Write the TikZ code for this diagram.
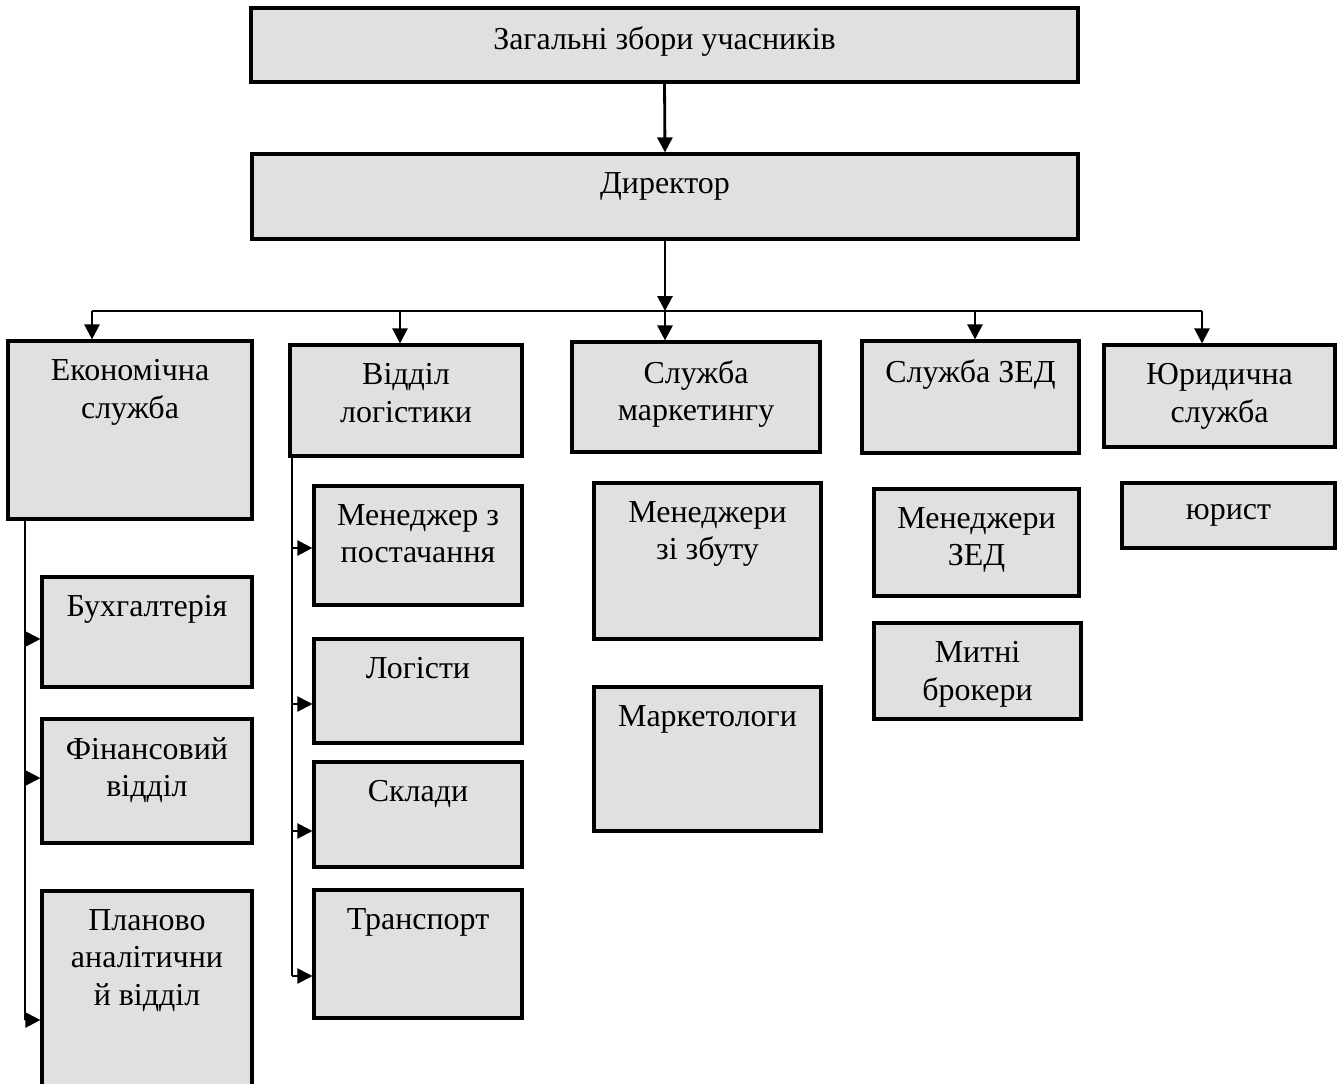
\documentclass[tikz,border=0pt]{standalone}
\usepackage{fontspec}
\setmainfont{Liberation Serif}
\usepackage{tikz}
\usetikzlibrary{arrows.meta, positioning, fit, calc}
\definecolor{colBox}{RGB}{224, 224, 224}
\newcommand{\orgfont}{\fontsize{18.2}{21.2}\selectfont}
\tikzset{
    box/.style={draw, line width=1.8pt, fill=colBox, inner sep=0pt},
    lbl/.style={anchor=north, align=center, inner sep=0pt, yshift=-0.4cm, font=\orgfont},
    tbox/.style={box, label={[lbl]north:#1}},
    arr/.style={-{Triangle[length=0.3cm, width=0.3cm]}}
}
\begin{document}
\begin{tikzpicture}[x=0.02cm, y=-0.02cm]
    \useasboundingbox (0,0) rectangle (1341,1083);
    % --- Kerivnytstvo ---
    \node[tbox={Загальні збори учасників}, fit={(251,8) (1078,82)}] (gen) {};
    \node[tbox={Директор}, fit={(252,154) (1078,239)}] (dir) {};
    \draw[arr, line width=1.6pt] (gen.south) -- (dir.north);

    % --- Sluzhby ---
    \node[tbox={Економічна\\служба}, fit={(8,341) (252,519)}] (econ) {};
    \node[tbox={Відділ\\логістики}, fit={(290,345) (522,456)}] (logi) {};
    \node[tbox={Служба\\маркетингу}, fit={(572,342) (820,452)}] (mark) {};
    \node[tbox={Служба ЗЕД}, fit={(862,341) (1079,453)}] (zed) {};
    \node[tbox={Юридична\\служба}, fit={(1104,345) (1335,447)}] (law) {};

    % Shyna vid dyrektora
    \coordinate (bL) at (92,311);
    \coordinate (bR) at (1202,311);
    \draw[line width=0.7pt] (bL) -- (bR);
    \coordinate (bus) at (dir.south |- bL);
    \draw[arr, line width=1.6pt] (dir.south) -- (bus);
    \foreach \x/\n in {92/econ, 400/logi, 975/zed, 1202/law} {
        \coordinate (t\n) at (\x,311);
        \draw[arr, line width=1.4pt] (t\n) -- (t\n |- \n.north);
    }
    \draw[arr, line width=1.6pt] (bus) -- (bus |- mark.north);

    % --- Ekonomichna sluzhba ---
    \node[tbox={Бухгалтерія}, fit={(42,577) (252,687)}] (buh) {};
    \node[tbox={Фінансовий\\відділ}, fit={(42,719) (252,843)}] (fin) {};
    \node[tbox={Планово\\аналітични\\й відділ}, fit={(42,891) (252,1095)}] (plan) {};
    \coordinate (ev) at (25,0);
    \coordinate (eplan) at (25,1020);
    \draw[line width=1.3pt] (econ.south -| ev) -- (eplan);
    \foreach \y/\n in {639/buh, 778/fin, 1020/plan} {
        \coordinate (e\n) at (25,\y);
        \draw[arr, line width=1.3pt] (e\n) -- (e\n -| \n.west);
    }

    % --- Viddil logistyky ---
    \node[tbox={Менеджер з\\постачання}, fit={(314,486) (522,605)}] (supply) {};
    \node[tbox={Логісти}, fit={(314,639) (522,743)}] (logist) {};
    \node[tbox={Склади}, fit={(314,762) (522,867)}] (store) {};
    \node[tbox={Транспорт}, fit={(314,890) (522,1018)}] (trans) {};
    \coordinate (lv) at (292,0);
    \coordinate (ltrans) at (292,976);
    \draw[line width=0.7pt] (logi.south -| lv) -- (ltrans);
    \foreach \y/\n in {548/supply, 704/logist, 831/store, 976/trans} {
        \coordinate (l\n) at (292,\y);
        \draw[arr, line width=1.3pt] (l\n) -- (l\n -| \n.west);
    }

    % --- Marketynh, ZED, yurydychna ---
    \node[tbox={Менеджери\\зі збуту}, fit={(594,483) (821,639)}] (sales) {};
    \node[tbox={Маркетологи}, fit={(594,687) (821,831)}] (mkt) {};
    \node[tbox={Менеджери\\ЗЕД}, fit={(874,489) (1079,596)}] (zedm) {};
    \node[tbox={Митні\\брокери}, fit={(874,623) (1081,719)}] (brok) {};
    \node[box, fit={(1122,483) (1335,548)},
          label={[lbl, yshift=-0.06cm]north:юрист}] (lawyer) {};
\end{tikzpicture}
\end{document}
